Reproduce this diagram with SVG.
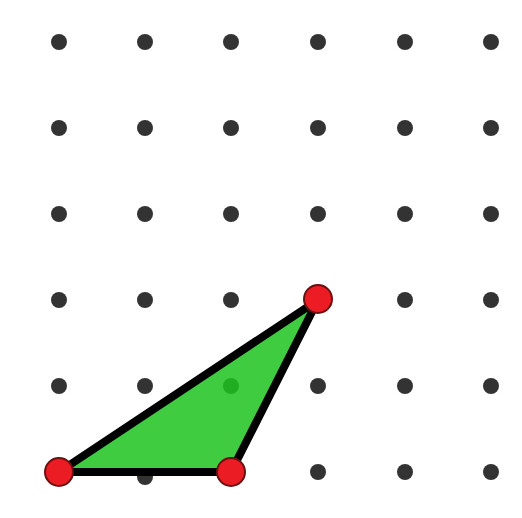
<svg xmlns="http://www.w3.org/2000/svg" width="522" height="518" viewBox="0 0 522 518">
<defs>
<style>
.dot{fill:#333333}
.vx{fill:#ec1c24;stroke:#6a1010;stroke-width:2}
.tri{fill:#1ec31e;fill-opacity:0.85;stroke:#000;stroke-width:8;stroke-linejoin:round}
</style>
<circle id="d" class="dot" r="8"/>
</defs>
<rect width="522" height="518" fill="#fff"/>
<g id="grid">
<use href="#d" x="59" y="42"/><use href="#d" x="145" y="42"/><use href="#d" x="231" y="42"/><use href="#d" x="318" y="42"/><use href="#d" x="405" y="42"/><use href="#d" x="491" y="42"/>
<use href="#d" x="59" y="128"/><use href="#d" x="145" y="128"/><use href="#d" x="231" y="128"/><use href="#d" x="318" y="128"/><use href="#d" x="405" y="128"/><use href="#d" x="491" y="128"/>
<use href="#d" x="59" y="214"/><use href="#d" x="145" y="214"/><use href="#d" x="231" y="214"/><use href="#d" x="318" y="214"/><use href="#d" x="405" y="214"/><use href="#d" x="491" y="214"/>
<use href="#d" x="59" y="300"/><use href="#d" x="145" y="300"/><use href="#d" x="231" y="300"/><use href="#d" x="318" y="300"/><use href="#d" x="405" y="300"/><use href="#d" x="491" y="300"/>
<use href="#d" x="59" y="386"/><use href="#d" x="145" y="386"/><use href="#d" x="231" y="386"/><use href="#d" x="318" y="386"/><use href="#d" x="405" y="386"/><use href="#d" x="491" y="386"/>
<use href="#d" x="59" y="472"/><use href="#d" x="145" y="477"/><use href="#d" x="231" y="472"/><use href="#d" x="318" y="472"/><use href="#d" x="405" y="472"/><use href="#d" x="491" y="472"/>
</g>
<g id="triangle">
<polygon class="tri" points="59,472 231,472 318,300"/>
</g>
<g id="vertices">
<circle class="vx" cx="59" cy="472" r="14"/>
<circle class="vx" cx="231" cy="472" r="14"/>
<circle class="vx" cx="318" cy="299" r="14"/>
</g>
</svg>
